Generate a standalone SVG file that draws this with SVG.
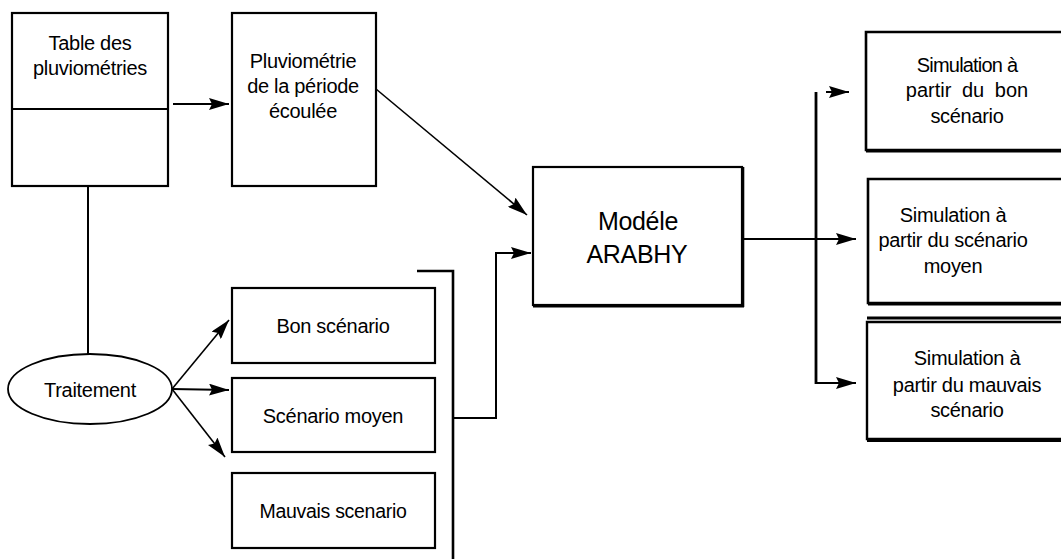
<svg xmlns="http://www.w3.org/2000/svg" width="1061" height="559" viewBox="0 0 1061 559">
  <style>
    .box { fill: #fff; stroke: #000; stroke-width: 2.2; }
    .ln { fill: none; stroke: #000; stroke-width: 2; }
    .thin { stroke-width: 1.6; }
    .t { font-family: "Liberation Sans", Arial, sans-serif; font-size: 20px; fill: #000; text-anchor: middle; letter-spacing: -0.3px; }
    .big { font-size: 25px; }
  </style>
  <defs>
    <marker id="arr" viewBox="0 0 20 12" refX="20" refY="6" markerWidth="20" markerHeight="12" markerUnits="userSpaceOnUse" orient="auto">
      <path d="M0,0 L20,6 L0,12 L3,6 Z" fill="#000"/>
    </marker>
  </defs>
  <rect width="1061" height="559" fill="#fff"/>

  <!-- connectors -->
  <g id="connectors">
    <line class="ln" x1="88" y1="186" x2="88" y2="355"/>
    <line class="ln" x1="173" y1="104" x2="229" y2="104" marker-end="url(#arr)"/>
    <line class="ln thin" x1="376" y1="89" x2="527" y2="215" marker-end="url(#arr)"/>
    <line class="ln thin" x1="172" y1="389" x2="229" y2="320" marker-end="url(#arr)"/>
    <line class="ln" x1="172" y1="389" x2="229" y2="390" marker-end="url(#arr)"/>
    <line class="ln thin" x1="172" y1="389" x2="225" y2="457" marker-end="url(#arr)"/>
    <!-- bracket gathering the three scenarios -->
    <polyline class="ln" points="417,271 453,271 453,559" style="stroke-width:2.6"/>
    <polyline class="ln" points="453,418 496,418 496,253 531,253" marker-end="url(#arr)"/>
    <!-- model outputs -->
    <line class="ln" x1="743" y1="239" x2="856" y2="239" marker-end="url(#arr)"/>
    <line class="ln" x1="816" y1="92" x2="816" y2="384" style="stroke-width:2.8"/>
    <line class="ln" x1="826" y1="92" x2="849" y2="92" marker-end="url(#arr)"/>
    <line class="ln" x1="816" y1="383" x2="856" y2="383" marker-end="url(#arr)"/>
  </g>

  <g id="table-pluviometries">
    <rect class="box" x="12" y="13" width="156" height="173"/>
    <line class="ln" x1="12" y1="109" x2="168" y2="109"/>
    <text class="t" x="90" y="50">Table des</text>
    <text class="t" x="90" y="75">pluviométries</text>
  </g>

  <g id="pluviometrie-periode">
    <rect class="box" x="232" y="13" width="144" height="173"/>
    <text class="t" x="303" y="68">Pluviométrie</text>
    <text class="t" x="303" y="93">de la période</text>
    <text class="t" x="303" y="118">écoulée</text>
  </g>

  <g id="traitement">
    <ellipse cx="90" cy="389" rx="82" ry="35" fill="#fff" stroke="#000" stroke-width="1.8"/>
    <text class="t" x="90" y="397">Traitement</text>
  </g>

  <g id="bon-scenario">
    <rect class="box" x="232" y="288" width="203" height="75"/>
    <text class="t" x="333" y="333">Bon scénario</text>
  </g>

  <g id="scenario-moyen">
    <rect class="box" x="232" y="378" width="203" height="74"/>
    <text class="t" x="333" y="423">Scénario moyen</text>
  </g>

  <g id="mauvais-scenario">
    <rect class="box" x="232" y="473" width="203" height="75"/>
    <text class="t" x="333" y="518" style="font-size:19.5px">Mauvais scenario</text>
  </g>

  <g id="modele-arabhy">
    <rect class="box" x="533" y="167" width="209" height="138"/>
    <line class="ln" x1="533" y1="306" x2="744" y2="306" style="stroke-width:3"/>
    <line class="ln" x1="743" y1="167" x2="743" y2="307" style="stroke-width:2.6"/>
    <text class="t big" x="638" y="230">Modéle</text>
    <text class="t big" x="637" y="263">ARABHY</text>
  </g>

  <g id="simulation-bon">
    <path class="ln" d="M1066,32 H866 V150 H1066" style="stroke-width:2.6"/>
    <line class="ln" x1="866" y1="151" x2="1066" y2="151" style="stroke-width:3"/>
    <text class="t" x="967" y="72" style="letter-spacing:-0.8px">Simulation à</text>
    <text class="t" x="967" y="97" style="word-spacing:5px;letter-spacing:0">partir du bon</text>
    <text class="t" x="967" y="123">scénario</text>
  </g>

  <g id="simulation-moyen">
    <path class="ln" d="M1066,179 H868 V303 H1066" style="stroke-width:2.6"/>
    <line class="ln" x1="868" y1="304" x2="1066" y2="304" style="stroke-width:3"/>
    <text class="t" x="953" y="222">Simulation à</text>
    <text class="t" x="953" y="247">partir du scénario</text>
    <text class="t" x="953" y="273">moyen</text>
  </g>

  <g id="simulation-mauvais">
    <line class="ln" x1="867" y1="318" x2="1066" y2="318" style="stroke-width:3"/>
    <path class="ln" d="M1066,322 H867 V439 H1066" style="stroke-width:2.4"/>
    <line class="ln" x1="867" y1="441" x2="1066" y2="441" style="stroke-width:2"/>
    <text class="t" x="967" y="365">Simulation à</text>
    <text class="t" x="967" y="392">partir du mauvais</text>
    <text class="t" x="967" y="417">scénario</text>
  </g>
</svg>
